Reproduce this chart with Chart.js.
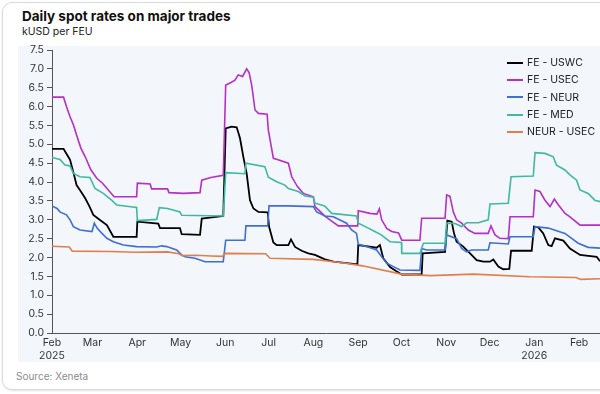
<!DOCTYPE html>
<html>
<head>
<meta charset="utf-8">
<script src="https://cdn.jsdelivr.net/npm/chart.js@4.4.1/dist/chart.umd.min.js"></script>
<style>
  html, body { margin: 0; padding: 0; width: 600px; height: 394px; overflow: hidden; background: #fff; }
  body { position: relative; font-family: Inter, 'Open Sans', sans-serif; color: #1a1a1a; }
  .card { position: absolute; left: 2px; top: 2px; width: 650px; height: 386px; border: 1px solid #dadada; border-radius: 10px; box-shadow: 0 1px 2px rgba(0,0,0,0.12); }
  .title { position: absolute; left: 22px; top: 9px; font-size: 13.5px; line-height: 14px; font-weight: 700; color: #111; }
  .subtitle { position: absolute; left: 22px; top: 26px; font-size: 10.5px; line-height: 12px; color: #222; }
  .plot-bg { position: absolute; left: 18px; top: 46px; width: 600px; height: 316px; background: #f3f6fb; }
  .chart-box { position: absolute; left: 18px; top: 40px; width: 582px; height: 322px; }
  .source { position: absolute; left: 16px; top: 370px; font-size: 10px; line-height: 12px; color: #8c8c8c; }
  .legend { position: absolute; left: 507px; top: 54px; }
  .legend-row { display: flex; align-items: center; height: 17.3px; font-size: 10.5px; color: #222; white-space: nowrap; }
  .legend-swatch { width: 16px; height: 2px; margin-right: 4px; }
</style>
</head>
<body>
<div class="card"></div>
<div class="title">Daily spot rates on major trades</div>
<div class="subtitle">kUSD per FEU</div>
<div class="plot-bg"></div>
<div class="chart-box"><canvas id="ratesChart" width="582" height="322"></canvas></div>
<div class="legend" id="legend"></div>
<div class="source">Source: Xeneta</div>
<script>
const START_DATE = '2025-02-01';

const seriesNames = ['FE - USWC', 'FE - USEC', 'FE - NEUR', 'FE - MED', 'NEUR - USEC'];
const seriesColors = ['#000000', '#b430c6', '#3f6fd3', '#40b9a1', '#e07f4a'];

const monthTickDates = ['2025-02-01', '2025-03-01', '2025-04-01', '2025-05-01', '2025-06-01', '2025-07-01',
  '2025-08-01', '2025-09-01', '2025-10-01', '2025-11-01', '2025-12-01', '2026-01-01', '2026-02-01'];
const monthTickLabels = [['Feb', '2025'], 'Mar', 'Apr', 'May', 'Jun', 'Jul', 'Aug', 'Sep', 'Oct', 'Nov', 'Dec', ['Jan', '2026'], 'Feb'];

const yTickStep = 0.5;
const yMax = 7.5;

// [days since 1 Feb 2025, kUSD per FEU]
const feUswc = [
  [0, 4.88], [8, 4.88], [10, 4.75], [12.5, 4.59], [15, 4.23], [17, 3.92], [20, 3.75], [23, 3.57], [26, 3.35],
  [28.6, 3.13], [33, 3.0], [38, 2.86], [42.5, 2.55], [58.6, 2.55], [59.1, 2.95], [73.6, 2.9], [74.8, 2.78],
  [88.6, 2.78], [89.8, 2.62], [102.5, 2.6], [103.7, 3.03], [118.6, 3.1], [120.3, 5.42], [124.4, 5.47],
  [127.9, 5.45], [130.2, 5.16], [132.5, 4.67], [134.8, 4.23], [137.1, 3.52], [139.5, 3.3], [142.9, 3.21],
  [149.4, 3.2], [150.3, 2.82], [153.3, 2.4], [155.6, 2.33], [163.7, 2.33], [165.5, 2.48], [168.3, 2.28],
  [172.9, 2.18], [177.5, 2.11], [182.1, 2.07], [189, 1.95], [195, 1.89], [211.5, 1.82], [212.1, 2.33],
  [224.8, 2.26], [227.1, 2.33], [229.4, 1.98], [234.1, 1.75], [238, 1.65], [242.2, 1.55], [256, 1.55],
  [256.7, 2.11], [272.2, 2.15], [273.8, 2.98], [276.8, 2.95], [278.4, 2.64], [280.2, 2.42], [284.8, 2.29],
  [289.5, 2.11], [294.1, 1.93], [298.7, 1.89], [303.3, 1.89], [305.6, 1.95], [309.1, 1.76], [312.5, 1.69],
  [316.7, 1.7], [317.9, 2.18], [332.2, 2.18], [333.8, 2.82], [336.8, 2.8], [340.2, 2.64], [343.7, 2.33],
  [346, 2.3], [348.3, 2.51], [354.1, 2.45], [358.7, 2.24], [365.7, 2.07], [377.2, 2.02], [379.5, 1.9]
];

const feUsec = [
  [0, 6.25], [8, 6.25], [10, 6.0], [12.5, 5.73], [15, 5.5], [17, 5.25], [20, 4.9], [23, 4.67], [27, 4.32],
  [31, 4.1], [35, 3.97], [43, 3.61], [58.6, 3.61], [59.1, 3.97], [68, 3.95], [69, 3.82], [80, 3.82],
  [81, 3.72], [91, 3.7], [102.5, 3.72], [103.7, 4.05], [110, 4.12], [118.6, 4.18], [120.3, 6.57],
  [123, 6.62], [126.7, 6.7], [129, 6.84], [132, 6.8], [134.8, 7.0], [136.5, 6.9], [138.3, 6.57],
  [140.6, 5.91], [143, 5.82], [149, 5.8], [149.8, 5.38], [153.3, 4.63], [156, 4.6], [163.7, 4.5],
  [166, 4.14], [170, 3.88], [174, 3.7], [181, 3.61], [182.1, 3.35], [186, 3.21], [189, 3.1], [192.5, 3.0],
  [198.3, 2.84], [211.7, 2.84], [212.1, 3.24], [220.2, 3.17], [225, 3.15], [226.7, 3.29], [228.3, 3.0],
  [231.8, 2.77], [235.2, 2.69], [240, 2.65], [242.2, 2.46], [254.8, 2.46], [256, 3.04], [272.2, 3.04],
  [273.3, 3.66], [275.6, 3.62], [277.9, 3.21], [280.2, 3.0], [283.7, 2.91], [288.3, 2.73], [292.9, 2.64],
  [302.1, 2.64], [304, 2.84], [306.8, 2.6], [310.2, 2.51], [316, 2.5], [317.2, 3.08], [333.3, 3.08],
  [334.5, 3.79], [337.9, 3.75], [341.4, 3.52], [344.9, 3.35], [347.9, 3.55], [350.6, 3.4], [355.3, 3.17],
  [358.7, 3.08], [365.7, 2.86], [379.5, 2.86]
];

const feNeur = [
  [0, 3.37], [3.5, 3.3], [5.5, 3.21], [10, 3.13], [12.5, 3.0], [14.8, 2.82], [19.4, 2.73], [27.7, 2.69],
  [29.3, 2.91], [31.2, 2.78], [34.6, 2.64], [38, 2.51], [42.5, 2.42], [49.4, 2.33], [58.6, 2.29],
  [72.5, 2.28], [75.9, 2.31], [79.4, 2.29], [86.3, 2.2], [89.8, 2.07], [92.1, 2.02], [99, 1.98],
  [106, 1.89], [118.6, 1.89], [120.3, 2.46], [133.6, 2.46], [134.3, 2.84], [149.4, 2.84], [150.3, 3.37],
  [163.7, 3.37], [181, 3.35], [183.3, 3.21], [189, 3.1], [194.8, 3.08], [204, 2.91], [207.5, 2.73],
  [210.9, 2.64], [212.1, 2.35], [217.8, 2.29], [224.8, 2.2], [228.3, 2.02], [231.8, 1.85], [236.4, 1.76],
  [241, 1.67], [254.8, 1.66], [256, 2.24], [259.4, 2.2], [272.2, 2.2], [273.3, 2.6], [280.2, 2.5],
  [283.7, 2.24], [287.1, 2.15], [290.6, 2.2], [302.1, 2.2], [303.3, 2.39], [316, 2.36], [317.2, 2.55],
  [333.3, 2.55], [334.5, 2.82], [343.7, 2.78], [355.2, 2.64], [364.4, 2.38], [371.3, 2.27], [379.5, 2.25]
];

const feMed = [
  [0, 4.65], [5.5, 4.6], [9, 4.45], [12.5, 4.43], [14.8, 4.23], [19.4, 4.14], [26.3, 4.12], [29.8, 3.83],
  [35.5, 3.7], [41.3, 3.52], [44.8, 3.39], [51.7, 3.36], [58.6, 3.33], [59.1, 2.98], [72.5, 3.01],
  [74.3, 3.32], [80, 3.3], [88.6, 3.21], [89.8, 3.12], [118.6, 3.1], [120.3, 4.25], [133.6, 4.22],
  [134.3, 4.5], [147.4, 4.41], [149.8, 4.13], [155.6, 4.01], [161.3, 3.92], [163.7, 3.83], [170.6, 3.75],
  [175.3, 3.63], [181, 3.6], [182.1, 3.44], [186.7, 3.39], [189, 3.36], [193.7, 3.17], [210.9, 3.1],
  [212.1, 2.91], [217, 2.82], [223.6, 2.69], [228, 2.6], [234.1, 2.42], [242, 2.4], [242.2, 2.11],
  [254.8, 2.11], [257.2, 2.38], [272.2, 2.38], [273.3, 2.91], [279.1, 2.9], [283.7, 2.82], [287.1, 2.92],
  [295.2, 2.92], [302.1, 3.0], [303.3, 3.42], [316, 3.44], [317.9, 4.14], [333.3, 4.16], [334.5, 4.78],
  [341.4, 4.76], [347.1, 4.67], [349.4, 4.45], [355.2, 4.32], [358.7, 4.19], [363.3, 4.05], [365.6, 3.79],
  [371.3, 3.7], [375.9, 3.52], [379.5, 3.48]
];

const neurUsec = [
  [0, 2.3], [12, 2.28], [14, 2.17], [40, 2.16], [58, 2.14], [80, 2.15], [88, 2.1], [90, 2.05], [100, 2.06],
  [110, 2.04], [118, 2.03], [120, 2.11], [148, 2.1], [151, 1.98], [181, 1.95], [200, 1.87], [215, 1.78],
  [242, 1.56], [262, 1.52], [292, 1.56], [331, 1.49], [363, 1.47], [366, 1.42], [380, 1.44]
];

const seriesPoints = [feUswc, feUsec, feNeur, feMed, neurUsec];

function dayIndex(dateStr) {
  return (Date.parse(dateStr) - Date.parse(START_DATE)) / 86400000;
}

const monthTickDays = monthTickDates.map(dayIndex);

function renderLegend() {
  const legend = document.getElementById('legend');
  legend.innerHTML = seriesNames.map((name, i) => `
    <div class="legend-row">
      <span class="legend-swatch" style="background:${seriesColors[i]}"></span>${name}
    </div>
  `).join('');
}

function renderChart() {
  const ctx = document.getElementById('ratesChart').getContext('2d');
  const tickFont = { family: "Inter, 'Open Sans', sans-serif", size: 10.5 };

  new Chart(ctx, {
    type: 'line',
    data: {
      datasets: seriesNames.map((name, i) => ({
        label: name,
        data: seriesPoints[i].map(([x, y]) => ({ x, y })),
        borderColor: seriesColors[i],
        backgroundColor: seriesColors[i],
        borderWidth: i === 0 ? 1.8 : 1.6,
        pointRadius: 0,
        tension: 0,
        order: seriesNames.length - i,
      })),
    },
    options: {
      responsive: false,
      animation: false,
      devicePixelRatio: 1,
      layout: { padding: { top: 10, right: 0, bottom: 0, left: 0 } },
      plugins: {
        legend: { display: false },
        tooltip: { enabled: false },
      },
      scales: {
        x: {
          type: 'linear',
          min: 0,
          max: 379.5,
          grid: { display: false, drawTicks: false },
          border: { display: true, color: '#555', width: 1 },
          afterBuildTicks: (scale) => {
            scale.ticks = monthTickDays.map(v => ({ value: v }));
          },
          afterFit: (scale) => { scale.height = 29; },
          ticks: {
            autoSkip: false,
            maxRotation: 0,
            padding: 4,
            color: '#333',
            font: tickFont,
            callback: (value, index) => monthTickLabels[index],
          },
        },
        y: {
          min: 0,
          max: yMax,
          grid: { display: true, drawOnChartArea: false, drawTicks: true, tickLength: 5, color: '#555' },
          border: { display: true, color: '#555', width: 1 },
          afterFit: (scale) => { scale.width = 34; },
          ticks: {
            stepSize: yTickStep,
            padding: 3,
            color: '#333',
            font: tickFont,
            callback: (value) => Number(value).toFixed(1),
          },
        },
      },
    },
  });
}

document.addEventListener('DOMContentLoaded', () => {
  renderLegend();
  renderChart();
});
</script>
</body>
</html>
